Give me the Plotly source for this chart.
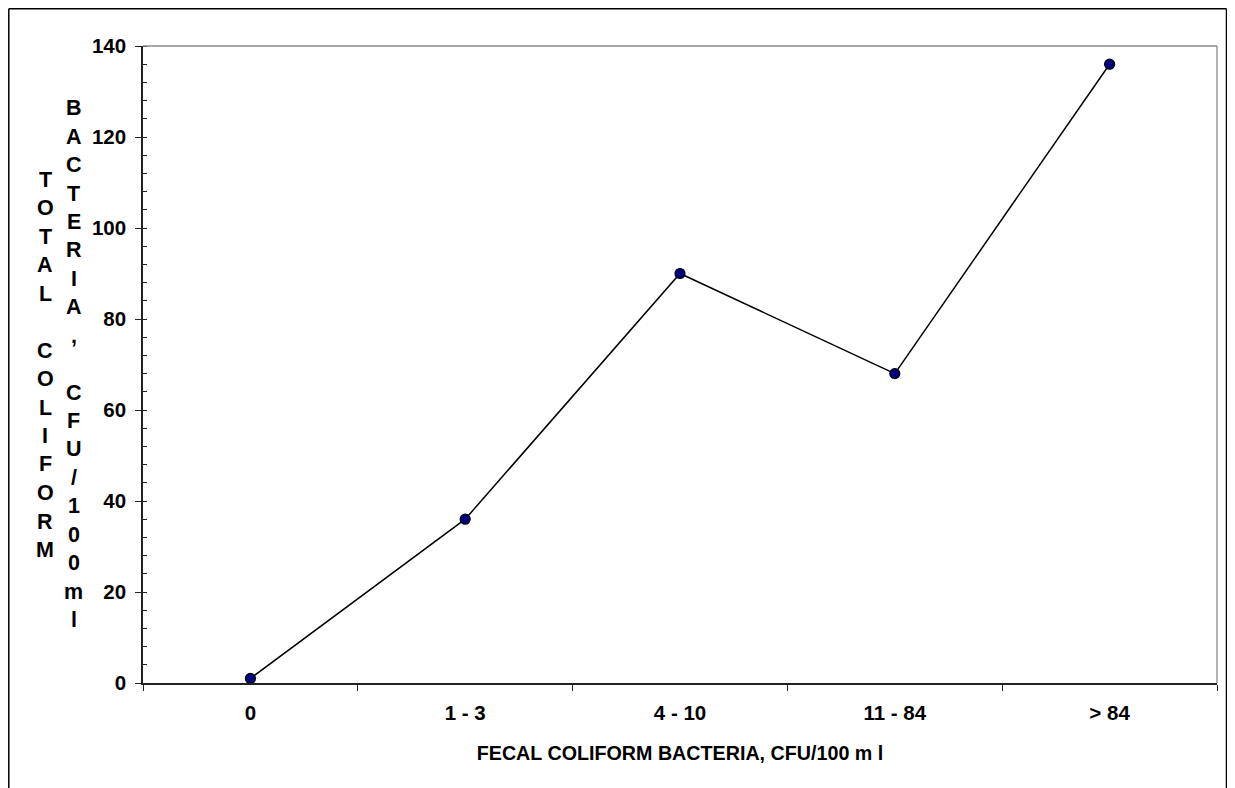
import plotly.graph_objects as go

categories = ["0", "1 - 3", "4 - 10", "11 - 84", "> 84"]
total_coliform = [1, 36, 90, 68, 136]
x_title = "FECAL COLIFORM BACTERIA, CFU/100 m l"
y_title_col1 = "TOTAL COLIFORM"
y_title_col2 = "BACTERIA, CFU/100ml"

OFF = 8  # page body margin in the browser
W, H = 1235 - OFF, 788 - OFF
# plot area edges in screen pixels
L, R, T, B = 143, 1217, 46, 683
pw, ph = R - L, B - T

def px_x(x):
    return (x - L) / pw

def px_y(y):
    return (B - y) / ph

FONT = "Liberation Sans, Arial, sans-serif"

fig = go.Figure()
fig.add_trace(go.Scatter(
    x=categories, y=total_coliform, mode="lines+markers",
    line=dict(color="black", width=1.5),
    marker=dict(size=10, color="#000080", line=dict(color="black", width=1.2)),
    showlegend=False, cliponaxis=False,
))

fig.update_layout(
    width=W, height=H,
    margin=dict(l=L - OFF, r=W - (R - OFF), t=T - OFF, b=H - (B - OFF)),
    paper_bgcolor="white", plot_bgcolor="white",
    font=dict(family=FONT, color="black"),
)
fig.update_xaxes(
    type="category", range=[-0.5, 4.5], tickson="boundaries",
    showgrid=False, zeroline=False,
    showline=True, linecolor="#222", linewidth=1.5,
    ticks="outside", ticklen=6, tickcolor="#222", tickwidth=1.2,
    ticklabelstandoff=11,
    tickfont=dict(size=20.5, family=FONT, weight="bold", color="black"),
    title=dict(text=x_title, font=dict(size=19.7, family=FONT, weight="bold"), standoff=23),
)
fig.update_yaxes(
    range=[0, 140], dtick=20, showgrid=False, zeroline=False,
    showline=True, linecolor="#222", linewidth=1.5,
    ticks="outside", ticklen=6, tickcolor="#222", tickwidth=1.2,
    ticklabelstandoff=5,
    minor=dict(dtick=4, ticks="inside", ticklen=4, tickcolor="#222", tickwidth=1, showgrid=False),
    tickfont=dict(size=20.5, family=FONT, weight="bold", color="black"),
)

# plot-area border (top and right, gray)
fig.add_shape(type="line", xref="paper", yref="paper", x0=0, x1=1, y0=1, y1=1,
              line=dict(color="#8a8a8a", width=1.3))
fig.add_shape(type="line", xref="paper", yref="paper", x0=1, x1=1, y0=0, y1=1,
              line=dict(color="#8a8a8a", width=1.3))
# outer chart frame (left, top, right edges; bottom runs off the page)
fl, fr, ft, fb = px_x(OFF + 0.8), px_x(1226.5), px_y(OFF + 0.8), px_y(800)
for x0, y0, x1, y1 in [(fl, ft, fr, ft), (fl, ft, fl, fb), (fr, ft, fr, fb)]:
    fig.add_shape(type="line", xref="paper", yref="paper",
                  x0=x0, y0=y0, x1=x1, y1=y1,
                  line=dict(color="black", width=1.5))

# stacked vertical y-axis title, two columns
def stack(text, xc, y0, step):
    for i, ch in enumerate(text):
        if ch == " ":
            continue
        fig.add_annotation(
            text=ch, xref="paper", yref="paper",
            x=px_x(xc), y=px_y(y0 + i * step),
            xanchor="center", yanchor="middle", showarrow=False,
            font=dict(size=21.5, family=FONT, weight="bold", color="black"),
        )

stack(y_title_col1, 45, 179.5, 28.5)
stack(y_title_col2, 73.5, 108.3, 28.43)

fig.write_html("out.html")
